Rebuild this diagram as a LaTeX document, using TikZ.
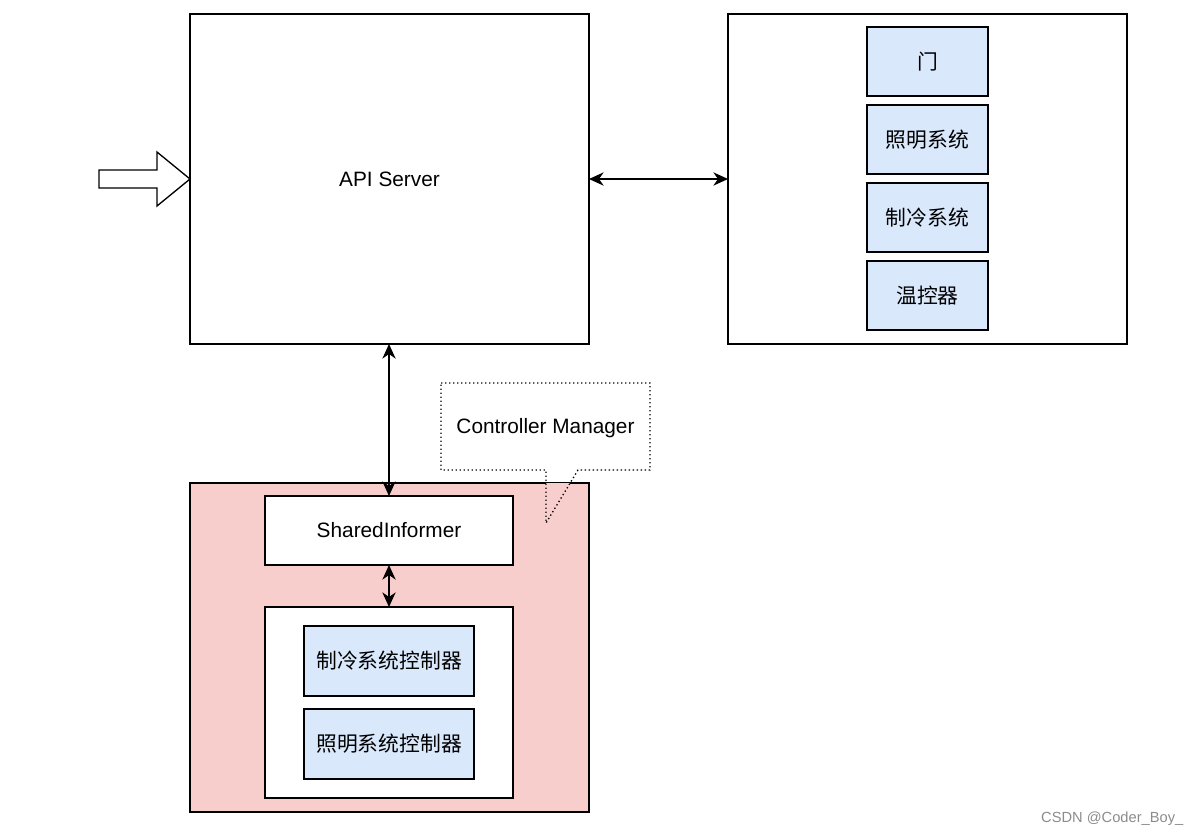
\documentclass[tikz,border=0pt]{standalone}
\usepackage{fontspec}
\setmainfont{Liberation Sans}
\newfontfamily\cjk{Noto Sans CJK SC}
\usetikzlibrary{arrows.meta}
\definecolor{cmpink}{HTML}{F8CECC}
\definecolor{devblue}{HTML}{DAE8FC}
\tikzset{
    box/.style={draw, line width=1pt, fill=white, inner sep=0pt, outer sep=0pt,
        font=\fontsize{15.6}{18}\selectfont},
    devbox/.style={box, fill=devblue, minimum width=90.75pt, minimum height=51.75pt,
        font=\fontsize{15.6}{18}\selectfont\cjk},
    ctrlbox/.style={box, fill=devblue, minimum width=127.5pt, minimum height=52.5pt,
        font=\fontsize{15.6}{18}\selectfont\cjk},
    link/.style={line width=1pt, <->}
}
\begin{document}
\begin{tikzpicture}[x=0.75pt, y=-0.75pt, >={Stealth[length=11pt,width=10pt,inset=3.5pt]}]
    \useasboundingbox (0,0) rectangle (1203,836);

    % the API Server
    \node (api) [box, minimum width=299.25pt, minimum height=247.5pt] at (389.5,179) {API Server};
    % the box of the devices
    \node (dev) [box, minimum width=299.25pt, minimum height=247.5pt] at (927.5,179) {};
    \node (door)  [devbox] at (927.5,61.5)  {门};
    \node (light) [devbox] at (927.5,139.5) {照明系统};
    \node (cool)  [devbox] at (927.5,217.5) {制冷系统};
    \node (temp)  [devbox] at (927.5,295.5) {温控器};

    % the block arrow into the API Server
    \draw[line width=1pt, fill=white] (api.west) -- ++(-33,-27) -- ++(0,18) -- ++(-58,0)
        -- ++(0,18) -- ++(58,0) -- ++(0,18) -- cycle;

    % the Controller Manager
    \node (cm) [box, fill=cmpink, minimum width=299.25pt, minimum height=246.75pt] at (389.5,647.5) {};
    \node (informer) [box, minimum width=186pt, minimum height=51.75pt] at (389,530.5) {SharedInformer};
    \node (ctrls) [box, minimum width=186pt, minimum height=143.25pt] at (389,702.5) {};
    \node (coolctrl)  [ctrlbox] at (389,661) {制冷系统控制器};
    \node (lightctrl) [ctrlbox] at (389,744) {照明系统控制器};

    % the callout over the Controller Manager
    \begin{scope}
        \clip (cm.north west) rectangle (cm.south east);
        \fill[cmpink] (546,470) -- (546,523) -- (578,470) -- cycle;
    \end{scope}
    \draw[line width=1pt, dotted] (441,383) -- (650,383) -- (650,470) -- (578,470)
        -- (546,523) -- (546,470) -- (441,470) -- cycle;
    \node (cmlabel) [font=\fontsize{15.6}{18}\selectfont] at (545.5,428) {Controller Manager};

    % the links
    \draw[link] (api.east) -- (dev.west);
    \draw[link] (api.south -| informer.north) -- (informer.north);
    \draw[link] (informer.south) -- (ctrls.north);

    % the watermark
    \node (mark) [anchor=east, text=black!45, font=\fontsize{11}{13}\selectfont] at (1188,819) {CSDN @Coder\_Boy\_};
\end{tikzpicture}
\end{document}
